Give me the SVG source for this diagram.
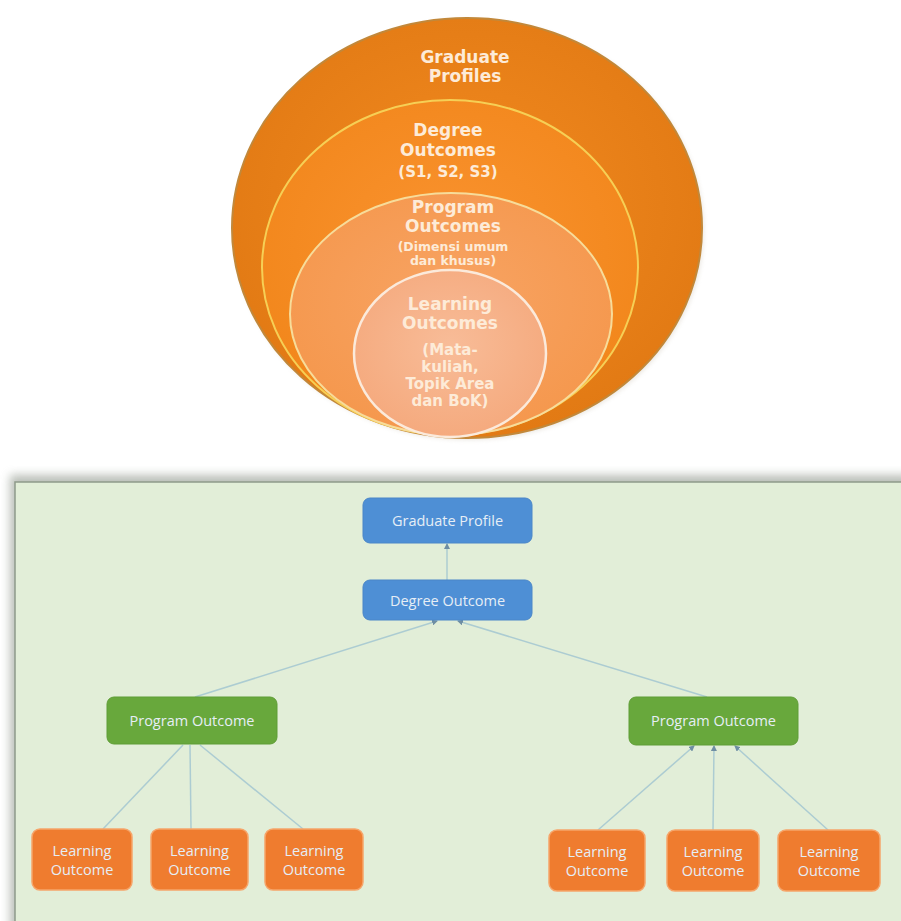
<svg xmlns="http://www.w3.org/2000/svg" width="901" height="921" viewBox="0 0 901 921">
<defs>
  <radialGradient id="gOuter" cx="50%" cy="45%" r="55%">
    <stop offset="0" stop-color="#f28a20"/>
    <stop offset="1" stop-color="#e27a14"/>
  </radialGradient>
  <radialGradient id="gDeg" cx="50%" cy="45%" r="55%">
    <stop offset="0" stop-color="#fa9330"/>
    <stop offset="1" stop-color="#f2871c"/>
  </radialGradient>
  <radialGradient id="gProg" cx="50%" cy="45%" r="55%">
    <stop offset="0" stop-color="#f8a464"/>
    <stop offset="1" stop-color="#f5984e"/>
  </radialGradient>
  <radialGradient id="gLearn" cx="50%" cy="45%" r="55%">
    <stop offset="0" stop-color="#f8bc98"/>
    <stop offset="1" stop-color="#f5aa7e"/>
  </radialGradient>
  <filter id="blur" x="-10%" y="-10%" width="120%" height="120%">
    <feGaussianBlur stdDeviation="5"/>
  </filter>
  <filter id="soft" x="-10%" y="-10%" width="120%" height="120%">
    <feGaussianBlur stdDeviation="2"/>
  </filter>
  <marker id="arr" viewBox="0 0 6 6" refX="5" refY="3" markerWidth="4" markerHeight="4" orient="auto">
    <path d="M0,0 L6,3 L0,6 z" fill="#6f8ea3"/>
  </marker>
  <style>
    .ct { font-family: "DejaVu Sans", "Liberation Sans", sans-serif; font-weight: bold; fill: #fdebd8; text-anchor: middle; }
    .big { font-size: 17px; }
    .box text { font-family: "Open Sans", "Noto Sans", sans-serif; font-size: 14.5px; fill: #e6eef6; text-anchor: middle; }
    .blue { fill: #4e8fd5; stroke: #4a86c8; stroke-width: 1; }
    .green { fill: #68a83c; stroke: #5f9d36; stroke-width: 1; }
    .orange { fill: #ef7c2f; stroke: #f6a56a; stroke-width: 1.5; }
    .conn line { stroke: #acccd2; stroke-width: 1.5; fill: none; }
    .conn line.a { marker-end: url(#arr); }
  </style>
</defs>

<rect x="0" y="0" width="901" height="921" fill="#ffffff"/>

<!-- Nested outcomes circles -->
<g id="circles">
  <ellipse cx="469" cy="230" rx="235" ry="210" fill="#c9c0b0" opacity="0.35" filter="url(#soft)"/>
  <g id="graduate-profiles">
    <ellipse cx="467" cy="228" rx="235" ry="210" fill="url(#gOuter)" stroke="#c2883a" stroke-width="2"/>
    <text class="ct big" x="465" y="63">Graduate</text>
    <text class="ct big" x="465" y="82">Profiles</text>
  </g>
  <g id="degree-outcomes">
    <ellipse cx="450" cy="267.5" rx="188" ry="167.5" fill="url(#gDeg)" stroke="#f6cf55" stroke-width="2"/>
    <text class="ct big" x="448" y="136">Degree</text>
    <text class="ct big" x="448" y="156">Outcomes</text>
    <text class="ct" x="448" y="177" font-size="15">(S1, S2, S3)</text>
  </g>
  <g id="program-outcomes">
    <ellipse cx="451" cy="314" rx="161" ry="121" fill="url(#gProg)" stroke="#f7dc9a" stroke-width="2"/>
    <text class="ct big" x="453" y="213">Program</text>
    <text class="ct big" x="453" y="232">Outcomes</text>
    <text class="ct" x="453" y="251" font-size="12.5">(Dimensi umum</text>
    <text class="ct" x="453" y="265" font-size="12.5">dan khusus)</text>
  </g>
  <g id="learning-outcomes">
    <ellipse cx="450" cy="353.5" rx="96" ry="83.5" fill="url(#gLearn)" stroke="#fbeadb" stroke-width="2.5"/>
    <text class="ct big" x="450" y="310">Learning</text>
    <text class="ct big" x="450" y="329">Outcomes</text>
    <text class="ct" x="450" y="355" font-size="15">(Mata-</text>
    <text class="ct" x="450" y="372" font-size="15">kuliah,</text>
    <text class="ct" x="450" y="389" font-size="15">Topik Area</text>
    <text class="ct" x="450" y="406" font-size="15">dan BoK)</text>
  </g>
</g>

<!-- Hierarchy panel -->
<g id="panel">
  <rect x="10" y="475" width="900" height="460" fill="#8c9488" opacity="0.6" filter="url(#blur)"/>
  <rect x="15" y="482" width="900" height="450" fill="#e2eed8" stroke="#8f9a8b" stroke-width="1.5"/>
</g>

<g id="connectors" class="conn">
  <line class="a" x1="447" y1="580" x2="447" y2="544"/>
  <line class="a" x1="195" y1="697" x2="437" y2="621"/>
  <line class="a" x1="707" y1="697" x2="458" y2="621"/>
  <line x1="103" y1="829" x2="183" y2="745"/>
  <line x1="191" y1="829" x2="190" y2="745"/>
  <line x1="303" y1="829" x2="200" y2="745"/>
  <line class="a" x1="598" y1="830" x2="694" y2="746"/>
  <line class="a" x1="713" y1="830" x2="714" y2="746"/>
  <line class="a" x1="828" y1="830" x2="735" y2="746"/>
</g>

<g id="graduate-profile" class="box">
  <rect class="blue" x="363" y="498" width="169" height="45" rx="7"/>
  <text x="447.5" y="525.5">Graduate Profile</text>
</g>
<g id="degree-outcome" class="box">
  <rect class="blue" x="363" y="580" width="169" height="40" rx="7"/>
  <text x="447.5" y="605.5">Degree Outcome</text>
</g>
<g id="program-outcome-left" class="box">
  <rect class="green" x="107" y="697" width="170" height="47" rx="7"/>
  <text x="192" y="725.5">Program Outcome</text>
</g>
<g id="program-outcome-right" class="box">
  <rect class="green" x="629" y="697" width="169" height="48" rx="7"/>
  <text x="713.5" y="725.5">Program Outcome</text>
</g>
<g id="learning-outcome-1" class="box">
  <rect class="orange" x="32" y="829" width="100" height="61" rx="8"/>
  <text x="82" y="856">Learning</text>
  <text x="82" y="875">Outcome</text>
</g>
<g id="learning-outcome-2" class="box">
  <rect class="orange" x="151" y="829" width="97" height="61" rx="8"/>
  <text x="199.5" y="856">Learning</text>
  <text x="199.5" y="875">Outcome</text>
</g>
<g id="learning-outcome-3" class="box">
  <rect class="orange" x="265" y="829" width="98" height="61" rx="8"/>
  <text x="314" y="856">Learning</text>
  <text x="314" y="875">Outcome</text>
</g>
<g id="learning-outcome-4" class="box">
  <rect class="orange" x="549" y="830" width="96" height="61" rx="8"/>
  <text x="597" y="857">Learning</text>
  <text x="597" y="876">Outcome</text>
</g>
<g id="learning-outcome-5" class="box">
  <rect class="orange" x="667" y="830" width="92" height="61" rx="8"/>
  <text x="713" y="857">Learning</text>
  <text x="713" y="876">Outcome</text>
</g>
<g id="learning-outcome-6" class="box">
  <rect class="orange" x="778" y="830" width="102" height="61" rx="8"/>
  <text x="829" y="857">Learning</text>
  <text x="829" y="876">Outcome</text>
</g>
</svg>
